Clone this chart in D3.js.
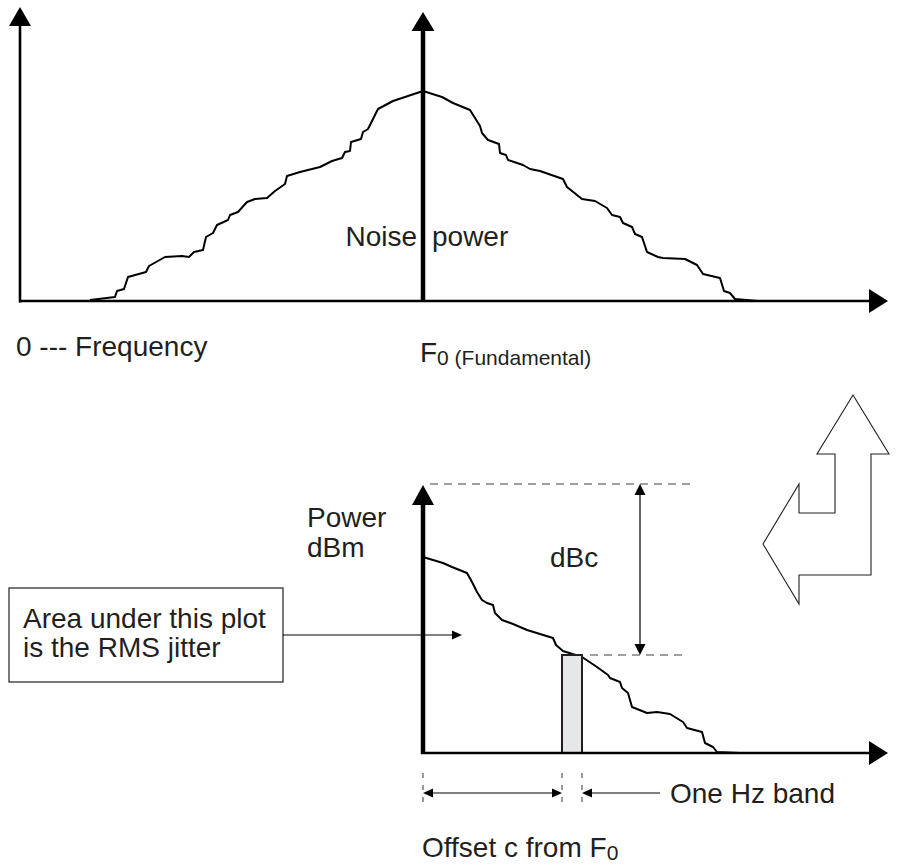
<!DOCTYPE html>
<html>
<head>
<meta charset="utf-8">
<script src="https://cdn.jsdelivr.net/npm/d3@7"></script>
<style>
  body { margin: 0; background: #fff; }
  text { font-family: "Liberation Sans", Arial, sans-serif; fill: #231f20; }
</style>
</head>
<body>
<script>
// top plot: noise spectrum around the fundamental (arbitrary units)
const spectrumFreq = [70, 95, 97, 104, 108, 126, 129, 145, 162, 169, 174, 183, 186, 193, 197, 208, 210, 218, 227, 235,
    247, 255, 265, 267, 280, 300, 312, 322, 325, 330, 331, 341, 343, 348, 358, 373, 385, 403,
    422, 433, 450, 460, 462, 468, 479, 480, 486, 488, 503, 510, 520, 543, 547, 562, 575, 587, 592, 600,
    603, 612, 615, 622, 627, 638, 643, 665, 677, 683, 700, 704, 710, 715, 738];
const spectrumPower = [1, 4, 10, 12, 24, 29, 35, 44, 45, 44, 49, 51, 64, 68, 76, 81, 86, 89, 99, 102,
    103, 110, 117, 125, 129, 134, 140, 143, 149, 150, 159, 162, 169, 172, 192, 200, 204, 210,
    204, 198, 191, 175, 168, 161, 157, 148, 146, 141, 136, 132, 130, 122, 114, 102, 100, 93, 86, 84,
    78, 74, 67, 64, 49, 44, 43, 42, 36, 27, 23, 10, 8, 2, 0];
const fundamentalFreq = 403;
const fundamentalPower = 289;

// bottom plot: single sideband phase noise vs offset from F0
const offsetFreq = [0, 20, 29, 44, 49, 54, 59, 64, 70, 72, 79, 90, 104, 130, 133, 140, 159, 174, 185, 187,
    197, 199, 205, 209, 224, 234, 247, 260, 264, 279, 282, 290, 294, 317];
const offsetPower = [196, 190, 186, 180, 171, 161, 153, 150, 148, 140, 133, 129, 123, 115, 108, 102, 96, 86, 78, 75,
    71, 65, 60, 46, 40, 41, 39, 31, 25, 21, 10, 6, 1, 0];
const band = [139, 159];       // the one Hz band
const bandPower = 98;
const carrierPower = 269;

// hollow "turn" arrow outline
const turnX = [90, 126, 108, 108, 36, 36, 0, 36, 36, 72, 72, 54];
const turnY = [0, 59, 59, 180, 180, 209, 149, 89, 118, 118, 59, 59];

const fs = '28px', fsSub = '21px';

const svg = d3.select('body').append('svg')
    .attr('width', 902)
    .attr('height', 865);

drawSpectrum(svg);
drawOffsetPlot(svg);
drawTurnArrow(svg);

function drawSpectrum(g) {
    const x = d3.scaleLinear().domain([0, 868]).range([20, 888]);
    const y = d3.scaleLinear().domain([0, 294]).range([301, 7]);

    const line = d3.line().x(d => x(d[0])).y(d => y(d[1]));
    g.append('path')
        .datum(d3.zip(spectrumFreq, spectrumPower))
        .attr('d', line)
        .attr('fill', 'none')
        .attr('stroke', '#000')
        .attr('stroke-width', 2)
        .attr('stroke-linejoin', 'round');

    // axes
    arrow(g, x(0), y(0) + 1.5, x(0), y(294), { len: 19, half: 11, width: 2.6 });
    arrow(g, x(0) - 1, y(0), x(868), y(0), { len: 19, half: 12, width: 2.6 });
    // fundamental
    arrow(g, x(fundamentalFreq), y(0), x(fundamentalFreq), y(fundamentalPower), { len: 19, half: 11.5, width: 4.5 });

    g.append('text').attr('x', 417).attr('y', 246).attr('text-anchor', 'end')
        .style('font-size', fs).text('Noise');
    g.append('text').attr('x', 432).attr('y', 246)
        .style('font-size', fs).text('power');

    g.append('text').attr('x', 16).attr('y', 356)
        .style('font-size', fs).text('0 --- Frequency');

    const f0 = g.append('text').attr('x', 420).attr('y', 362).style('font-size', fs);
    f0.append('tspan').text('F');
    f0.append('tspan').attr('dy', 3).style('font-size', fsSub).text('0 (Fundamental)');
}

function drawOffsetPlot(g) {
    const x = d3.scaleLinear().domain([0, 465]).range([423, 888]);
    const y = d3.scaleLinear().domain([0, 268]).range([753, 485]);

    const line = d3.line().x(d => x(d[0])).y(d => y(d[1]));
    g.append('path')
        .datum(d3.zip(offsetFreq, offsetPower))
        .attr('d', line)
        .attr('fill', 'none')
        .attr('stroke', '#000')
        .attr('stroke-width', 2)
        .attr('stroke-linejoin', 'round');

    // one Hz band
    g.append('rect')
        .attr('x', x(band[0]))
        .attr('y', y(bandPower))
        .attr('width', x(band[1]) - x(band[0]))
        .attr('height', y(0) - y(bandPower))
        .attr('fill', '#e6e7e8')
        .attr('stroke', '#231f20')
        .attr('stroke-width', 2);

    // axes
    arrow(g, x(0), y(0) + 1, x(0), y(268), { len: 20, half: 11, width: 4.5 });
    arrow(g, x(0) - 2, y(0), x(465), y(0), { len: 19, half: 12, width: 2.6 });

    // dashed reference levels
    const dashed = (x1, x2, lvl) => g.append('line')
        .attr('x1', x(x1)).attr('x2', x(x2))
        .attr('y1', y(lvl)).attr('y2', y(lvl))
        .attr('stroke', '#808080')
        .attr('stroke-width', 1.5)
        .attr('stroke-dasharray', '8,6');
    dashed(7, 267, carrierPower);
    dashed(167, 262, bandPower);

    // dBc span
    arrow(g, x(217), y(carrierPower), x(217), y(bandPower), { len: 11, half: 5.5, width: 1.2, both: true });
    g.append('text').attr('x', 550).attr('y', 567).style('font-size', fs).text('dBc');

    g.append('text').attr('x', 307).attr('y', 527).style('font-size', fs).text('Power');
    g.append('text').attr('x', 307).attr('y', 557).style('font-size', fs).text('dBm');

    // callout box
    g.append('rect')
        .attr('x', 9).attr('y', 588)
        .attr('width', 274).attr('height', 94)
        .attr('fill', '#fff')
        .attr('stroke', '#231f20')
        .attr('stroke-width', 1.2);
    g.append('text').attr('x', 23).attr('y', 628).style('font-size', fs).text('Area under this plot');
    g.append('text').attr('x', 23).attr('y', 657).style('font-size', fs).text('is the RMS jitter');
    arrow(g, 283, y(118), x(39), y(118), { len: 10, half: 4.5, width: 1.2 });

    // offset markers under the axis
    [0, band[0], band[1]].forEach(f => {
        g.append('line')
            .attr('x1', x(f)).attr('x2', x(f))
            .attr('y1', y(-20)).attr('y2', y(-55))
            .attr('stroke', '#555')
            .attr('stroke-width', 1.2)
            .attr('stroke-dasharray', '5,7');
    });
    arrow(g, x(0), y(-40), x(band[0]), y(-40), { len: 10, half: 4.5, width: 1.2, both: true });
    arrow(g, x(237), y(-40), x(band[1]), y(-40), { len: 10, half: 4.5, width: 1.2 });

    g.append('text').attr('x', 670).attr('y', 803).style('font-size', fs).text('One Hz band');
    const off = g.append('text').attr('x', 422).attr('y', 857).style('font-size', fs);
    off.append('tspan').text('Offset c from F');
    off.append('tspan').attr('dy', 3).style('font-size', fsSub).text('0');
}

function drawTurnArrow(g) {
    const x = d3.scaleLinear().domain([0, 126]).range([763, 889]);
    const y = d3.scaleLinear().domain([0, 209]).range([395, 604]);
    const line = d3.line().x(d => x(d[0])).y(d => y(d[1])).curve(d3.curveLinearClosed);
    g.append('path')
        .datum(d3.zip(turnX, turnY))
        .attr('d', line)
        .attr('fill', '#fff')
        .attr('stroke', '#231f20')
        .attr('stroke-width', 1.1);
}

// line ending in a filled triangular head at (x2, y2)
function arrow(g, x1, y1, x2, y2, opts) {
    const { len, half, width, both } = opts;
    const a = Math.atan2(y2 - y1, x2 - x1);
    const ux = Math.cos(a), uy = Math.sin(a);
    const sx = both ? x1 + ux * len * 0.8 : x1;
    const sy = both ? y1 + uy * len * 0.8 : y1;
    g.append('line')
        .attr('x1', sx).attr('y1', sy)
        .attr('x2', x2 - ux * len * 0.8).attr('y2', y2 - uy * len * 0.8)
        .attr('stroke', '#000')
        .attr('stroke-width', width);
    head(g, x2, y2, ux, uy, len, half);
    if (both) head(g, x1, y1, -ux, -uy, len, half);
}

function head(g, x, y, ux, uy, len, half) {
    const bx = x - ux * len, by = y - uy * len;
    const pts = [[x, y], [bx - uy * half, by + ux * half], [bx + uy * half, by - ux * half]];
    g.append('polygon')
        .attr('points', pts.map(p => p.join(',')).join(' '))
        .attr('fill', '#000');
}
</script>
</body>
</html>
